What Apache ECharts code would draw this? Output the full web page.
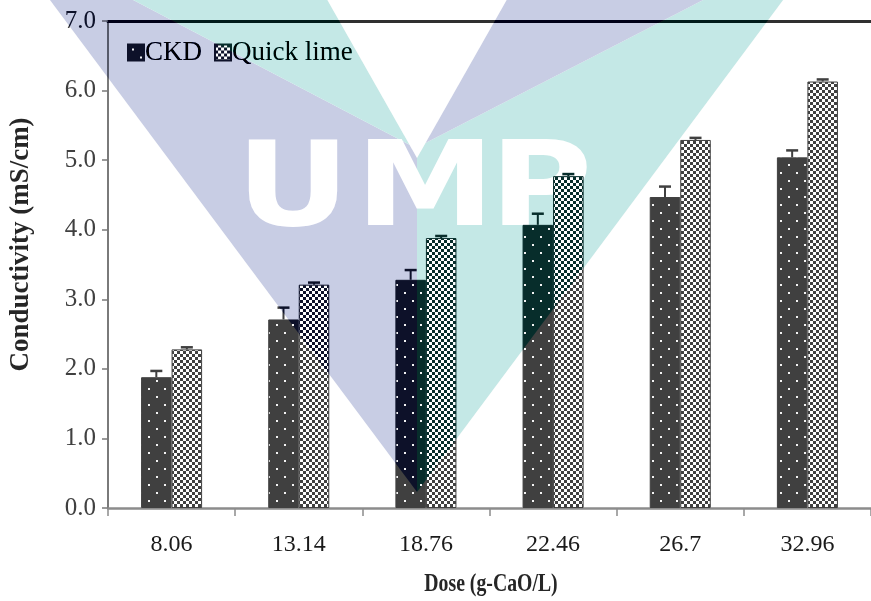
<!DOCTYPE html>
<html>
<head>
<meta charset="utf-8">
<script src="https://cdn.jsdelivr.net/npm/echarts@6/dist/echarts.min.js"></script>
<style>
  html, body { margin: 0; padding: 0; background: #ffffff; }
  #chart { width: 871px; height: 601px; }
</style>
</head>
<body>
<div id="chart"></div>
<script>
// Conductivity vs. dose for cement kiln dust (CKD) and quick lime
const doses = ['8.06', '13.14', '18.76', '22.46', '26.7', '32.96'];
const ckd = [1.88, 2.71, 3.28, 4.07, 4.47, 5.04];
const ckdErr = [0.09, 0.17, 0.14, 0.16, 0.15, 0.10];
const lime = [2.28, 3.21, 3.88, 4.77, 5.29, 6.13];
const limeErr = [0.03, 0.03, 0.03, 0.03, 0.03, 0.03];
const seriesNames = ['CKD', 'Quick lime'];
const xTitle = 'Dose (g-CaO/L)';
const yTitle = 'Conductivity (mS/cm)';
const yMin = 0, yMax = 7, yStep = 1;

const DARK = '#404040';
const SERIF = '"Liberation Serif", "Times New Roman", serif';

// Fill patterns: dotted dark fill for CKD, fine checkerboard for quick lime
function dotTile() {
  const c = document.createElement('canvas');
  c.width = 16; c.height = 16;
  const g = c.getContext('2d');
  g.fillStyle = DARK; g.fillRect(0, 0, 16, 16);
  g.fillStyle = '#f4f4f4';
  g.fillRect(4, 4, 2, 2);
  g.fillRect(12, 12, 2, 2);
  return c;
}
function checkTile() {
  const c = document.createElement('canvas');
  c.width = 6; c.height = 6;
  const g = c.getContext('2d');
  g.fillStyle = '#ffffff'; g.fillRect(0, 0, 6, 6);
  g.fillStyle = DARK;
  g.fillRect(0, 0, 3, 3);
  g.fillRect(3, 3, 3, 3);
  return c;
}
const ckdFill = { image: dotTile(), repeat: 'repeat' };
const limeFill = { image: checkTile(), repeat: 'repeat' };

// Upper error whiskers with a cap, offset to sit on each bar of the pair
function whisker(offsetFrac) {
  return function (params, api) {
    const idx = api.value(0), v = api.value(1), e = api.value(2);
    const band = api.size([1, 0])[0];
    const p0 = api.coord([idx, v]);
    const p1 = api.coord([idx, v + e]);
    const x = p0[0] + offsetFrac * band;
    return {
      type: 'group',
      children: [
        { type: 'line', shape: { x1: x, y1: p0[1], x2: x, y2: p1[1] },
          style: { stroke: DARK, lineWidth: 2 } },
        { type: 'line', shape: { x1: x - 6, y1: p1[1], x2: x + 6, y2: p1[1] },
          style: { stroke: DARK, lineWidth: 2.5 } }
      ]
    };
  };
}

// Background emblem (two crossing chevrons with a lettering)
const LAV_BACK = '#d4d7e7', TEAL_BACK = '#d2eae8';
const LAV_TINT = '#c9cde4', TEAL_TINT = '#c4e8e6';
const emblemShapes = [
  { pts: [[35, -20], [95, -20], [409.5, 144.8], [417, 158], [417, 492]], kind: 'lav' },
  { pts: [[95, -20], [316, -20], [409.5, 144.8]], kind: 'teal' },
  { pts: [[417, 158], [425.5, 143], [742, -20], [798, -20], [417, 492]], kind: 'teal' },
  { pts: [[518, -20], [742, -20], [425.5, 143]], kind: 'lav' }
];
const emblemLetters = [['U', 293], ['M', 425], ['P', 541]];

const graphics = [];
emblemShapes.forEach(s => {
  graphics.push({
    type: 'polygon', z: -10, silent: true,
    shape: { points: s.pts },
    style: { fill: s.kind === 'lav' ? LAV_BACK : TEAL_BACK }
  });
});
emblemLetters.forEach(([ch, cx]) => {
  graphics.push({
    type: 'text', z: -9, silent: true, x: cx, y: 195, scaleX: 1.2, scaleY: 1,
    style: {
      text: ch, fill: '#ffffff', align: 'center', verticalAlign: 'middle',
      fontFamily: '"DejaVu Sans", sans-serif', fontWeight: 'bold', fontSize: 117
    }
  });
});
// Horizontal axis title, set in a narrow bold face
graphics.push({
  type: 'text', z: 10, silent: true, x: 491, y: 584, scaleX: 0.76, scaleY: 1,
  style: {
    text: xTitle, fill: '#262626', align: 'center', verticalAlign: 'middle',
    fontFamily: SERIF, fontWeight: 'bold', fontSize: 26
  }
});
emblemShapes.forEach(s => {
  graphics.push({
    type: 'polygon', z: 200, silent: true,
    shape: { points: s.pts },
    style: { fill: s.kind === 'lav' ? LAV_TINT : TEAL_TINT, blend: 'color-burn' }
  });
});

const chart = echarts.init(document.getElementById('chart'), null, { renderer: 'canvas' });
chart.setOption({
  backgroundColor: '#ffffff',
  animation: false,
  graphic: graphics,
  grid: { left: 107, top: 21, width: 774, height: 487, containLabel: false },
  legend: {
    data: seriesNames,
    left: 122, top: 34,
    icon: 'rect', itemWidth: 16, itemHeight: 16, itemGap: 12,
    textStyle: { fontFamily: SERIF, fontSize: 27, color: '#1a1a1a', padding: [0, 0, 0, -4] }
  },
  xAxis: [
    {
      type: 'category', data: doses, position: 'bottom',
      axisLine: { lineStyle: { color: '#8c8c8c', width: 2.5 } },
      axisTick: { show: true, length: 8, lineStyle: { color: '#8c8c8c', width: 1.5 } },
      axisLabel: { fontFamily: SERIF, fontSize: 24, color: '#1a1a1a', margin: 25 }
    },
    {
      type: 'category', data: doses, position: 'top',
      axisLine: { lineStyle: { color: '#303030', width: 3 } },
      axisTick: { show: false }, axisLabel: { show: false }
    }
  ],
  yAxis: {
    type: 'value', min: yMin, max: yMax, interval: yStep,
    axisLine: { show: true, lineStyle: { color: '#7a7a7a', width: 2 } },
    axisTick: { show: true, inside: false, length: 6, lineStyle: { color: '#7a7a7a', width: 1.5 } },
    splitLine: { show: false },
    axisLabel: {
      fontFamily: SERIF, fontSize: 25, color: '#404040', margin: 12,
      formatter: v => v.toFixed(1)
    },
    name: yTitle, nameLocation: 'middle', nameGap: 73,
    nameTextStyle: { fontFamily: SERIF, fontSize: 27, fontWeight: 'bold', color: '#262626',
      padding: [0, 0, 0, 40] }
  },
  series: [
    {
      name: 'CKD', type: 'bar', data: ckd, barWidth: '24%', barGap: '0%',
      itemStyle: { color: ckdFill, borderColor: DARK, borderWidth: 1 }
    },
    {
      name: 'Quick lime', type: 'bar', data: lime, barWidth: '24%', barGap: '0%',
      itemStyle: { color: limeFill, borderColor: DARK, borderWidth: 1 }
    },
    {
      type: 'custom', z: 5, silent: true,
      data: ckd.map((v, i) => [i, v, ckdErr[i]]),
      encode: { x: 0, y: 1 },
      renderItem: whisker(-0.12)
    },
    {
      type: 'custom', z: 5, silent: true,
      data: lime.map((v, i) => [i, v, limeErr[i]]),
      encode: { x: 0, y: 1 },
      renderItem: whisker(0.12)
    }
  ]
});
</script>
</body>
</html>
